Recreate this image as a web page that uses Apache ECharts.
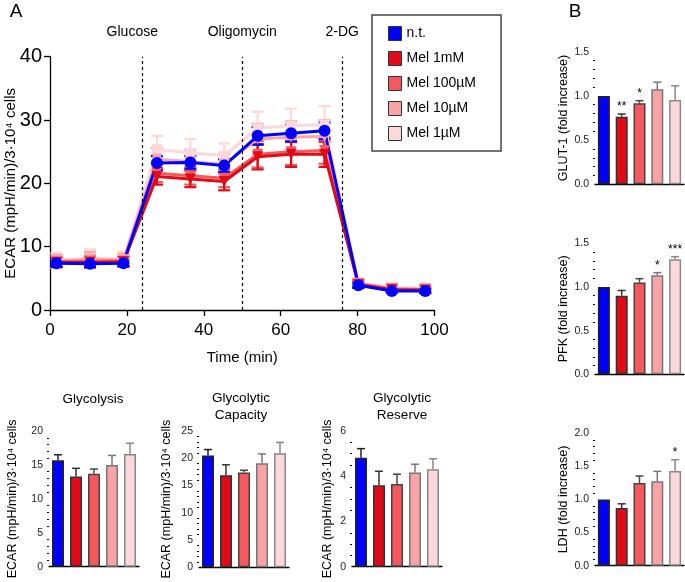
<!DOCTYPE html>
<html>
<head>
<meta charset="utf-8">
<script src="https://cdn.jsdelivr.net/npm/echarts@6/dist/echarts.min.js"></script>
<style>
html,body{margin:0;padding:0;background:#fff}
#main{width:685px;height:582px}
</style>
</head>
<body>
<div id="main"></div>
<script>
// panel A - ECAR time course
var times = [1.7, 10.4, 19.1, 27.8, 36.5, 45.3, 54.0, 62.7, 71.4, 80.2, 88.9, 97.6];
var ntMean = [7.4, 7.3, 7.4, 23.2, 23.3, 22.8, 27.5, 27.9, 28.3, 3.9, 3.0, 3.0];
var ntErr = [0.6, 0.5, 0.5, 1.1, 1.0, 1.0, 1.4, 1.3, 1.3, 0.4, 0.3, 0.3];
var mel1mMMean = [7.5, 7.5, 7.6, 21.1, 20.7, 20.3, 24.2, 24.6, 24.6, 4.0, 3.2, 3.1];
var mel1mMErr = [0.7, 0.8, 0.7, 1.3, 1.3, 1.4, 2.0, 2.0, 2.0, 0.5, 0.4, 0.4];
var mel100Mean = [7.6, 7.7, 7.7, 21.6, 21.2, 20.8, 24.6, 25.0, 25.2, 4.1, 3.3, 3.2];
var mel100Err = [0.8, 0.9, 0.8, 1.4, 1.4, 1.4, 2.1, 2.1, 2.1, 0.6, 0.5, 0.5];
var mel10Mean = [7.7, 8.0, 7.9, 23.8, 23.4, 23.0, 27.0, 27.3, 27.4, 4.2, 3.4, 3.3];
var mel10Err = [1.0, 1.2, 1.0, 1.8, 1.9, 1.7, 2.4, 2.5, 2.6, 0.7, 0.7, 0.7];
var mel1Mean = [7.8, 8.2, 8.0, 25.4, 24.8, 24.4, 28.7, 29.1, 29.3, 4.3, 3.5, 3.4];
var mel1Err = [1.2, 1.4, 1.2, 2.1, 2.2, 1.9, 2.6, 2.7, 2.9, 0.8, 0.8, 0.8];
var drugTimes = [24, 50, 76];
var drugNames = ['Glucose', 'Oligomycin', '2-DG'];

// bar panels
var groups = ['n.t.', 'Mel 1mM', 'Mel 100µM', 'Mel 10µM', 'Mel 1µM'];
var glycolysis = [15.7, 13.3, 13.7, 15.0, 16.6];
var glycolysisErr = [0.8, 1.2, 0.7, 1.4, 1.6];
var capacity = [20.5, 16.9, 17.4, 19.1, 20.9];
var capacityErr = [1.1, 1.9, 0.4, 1.7, 2.0];
var reserve = [4.82, 3.6, 3.66, 4.16, 4.31];
var reserveErr = [0.4, 0.62, 0.43, 0.37, 0.46];
var glut1 = [1.0, 0.765, 0.916, 1.075, 0.954];
var glut1Err = [0, 0.03, 0.03, 0.08, 0.16];
var glut1Stars = ['', '**', '*', '', ''];
var pfk = [1.0, 0.90, 1.05, 1.134, 1.317];
var pfkErr = [0, 0.06, 0.045, 0.03, 0.03];
var pfkStars = ['', '', '', '*', '***'];
var ldh = [1.0, 0.87, 1.25, 1.275, 1.43];
var ldhErr = [0, 0.065, 0.105, 0.15, 0.17];
var ldhStars = ['', '', '', '', '*'];

var colors = ['#0000ff', '#e10b17', '#f5585d', '#f9a3a6', '#fdd8d9'];
var edges = ['#222', '#333', '#444', '#777', '#888'];
var FONT = 'Liberation Sans, Arial, sans-serif';

var chart = echarts.init(document.getElementById('main'));

function errRender(capHalf, lw, both, edgeList, stars) {
  return function (params, api) {
    var x = api.value(0), v = api.value(1), e = api.value(2);
    var col = edgeList ? edgeList[params.dataIndex] : api.visual('color');
    var top = api.coord([x, v + e]);
    var bot = api.coord([x, both ? v - e : v]);
    var kids = [];
    if (e > 0) {
      kids.push({type: 'line', shape: {x1: top[0], y1: top[1], x2: bot[0], y2: bot[1]}, style: {stroke: col, lineWidth: lw}});
      kids.push({type: 'line', shape: {x1: top[0] - capHalf, y1: top[1], x2: top[0] + capHalf, y2: top[1]}, style: {stroke: col, lineWidth: lw}});
      if (both) {
        kids.push({type: 'line', shape: {x1: bot[0] - capHalf, y1: bot[1], x2: bot[0] + capHalf, y2: bot[1]}, style: {stroke: col, lineWidth: lw}});
      }
    }
    if (stars && stars[params.dataIndex]) {
      kids.push({type: 'text', x: top[0], y: top[1] - 1, style: {text: stars[params.dataIndex], align: 'center', verticalAlign: 'bottom', font: '12px ' + FONT, fill: '#000'}});
    }
    return {type: 'group', children: kids};
  };
}

var axisBase = {
  axisLine: {lineStyle: {color: '#000', width: 1.3}},
  axisTick: {length: 4, lineStyle: {color: '#000', width: 1.2}},
  splitLine: {show: false},
  nameMoveOverlap: false
};

function catAxis(idx) {
  return Object.assign({}, axisBase, {
    type: 'category', gridIndex: idx, data: groups,
    axisTick: {alignWithLabel: true, length: 4, lineStyle: {color: '#000', width: 1.2}},
    axisLabel: {show: false}
  });
}

function valAxis(idx, max, interval, minorN, name, gap, dec) {
  return Object.assign({}, axisBase, {
    type: 'value', gridIndex: idx, min: 0, max: max, interval: interval,
    minorTick: {show: true, splitNumber: minorN, length: 2, lineStyle: {color: '#000'}},
    axisLabel: {fontSize: 10.5, color: '#222', margin: 6, fontFamily: FONT,
      formatter: function (v) { return dec ? v.toFixed(1) : String(v); }},
    name: name, nameLocation: 'middle', nameGap: gap,
    nameTextStyle: {fontSize: 12.5, color: '#000', fontFamily: FONT}
  });
}

var grids = [
  {left: 50, top: 56.7, width: 384.5, height: 253.3},
  {left: 49, top: 431, width: 90, height: 135.7},
  {left: 199, top: 431, width: 90, height: 136.3},
  {left: 352, top: 431, width: 90, height: 135.7},
  {left: 595, top: 51.7, width: 89, height: 132.6},
  {left: 595, top: 243.3, width: 89, height: 131},
  {left: 595, top: 433.3, width: 89, height: 132.4}
];
grids.forEach(function (g) { g.outerBoundsMode = 'none'; g.containLabel = false; });

var ecarName = 'ECAR (mpH/min)/3·10⁴ cells';

var xAxes = [
  Object.assign({}, axisBase, {
    type: 'value', gridIndex: 0, min: 0, max: 100, interval: 20,
    axisTick: {length: 6, lineStyle: {color: '#000', width: 1.3}},
    axisLabel: {fontSize: 17, color: '#000', margin: 12, fontFamily: FONT},
    name: 'Time (min)', nameLocation: 'middle', nameGap: 40,
    nameTextStyle: {fontSize: 15, color: '#000', fontFamily: FONT}
  }),
  catAxis(1), catAxis(2), catAxis(3), catAxis(4), catAxis(5), catAxis(6)
];

var yAxes = [
  Object.assign({}, axisBase, {
    type: 'value', gridIndex: 0, min: 0, max: 40, interval: 10,
    axisTick: {length: 6, lineStyle: {color: '#000', width: 1.3}},
    axisLabel: {fontSize: 20, color: '#000', margin: 8, fontFamily: FONT},
    name: ecarName, nameLocation: 'middle', nameGap: 32,
    nameTextStyle: {fontSize: 15, color: '#000', fontFamily: FONT}
  }),
  valAxis(1, 20, 5, 5, ecarName, 29.5, false),
  valAxis(2, 25, 5, 5, ecarName, 25.5, false),
  valAxis(3, 6, 2, 4, ecarName, 17.5, false),
  valAxis(4, 1.5, 0.5, 5, 'GLUT-1 (fold increase)', 24.5, true),
  valAxis(5, 1.5, 0.5, 5, 'PFK (fold increase)', 24.5, true),
  valAxis(6, 2, 0.5, 5, 'LDH (fold increase)', 24.5, true)
];

var series = [];

// time course lines, lightest first so n.t. sits on top
var lineSets = [
  {name: 'Mel 1µM', mean: mel1Mean, err: mel1Err, color: colors[4], symbol: 'rect', rot: 0, size: 10},
  {name: 'Mel 10µM', mean: mel10Mean, err: mel10Err, color: colors[3], symbol: 'triangle', rot: 180, size: 11},
  {name: 'Mel 100µM', mean: mel100Mean, err: mel100Err, color: colors[2], symbol: 'triangle', rot: 180, size: 11},
  {name: 'Mel 1mM', mean: mel1mMMean, err: mel1mMErr, color: colors[1], symbol: 'triangle', rot: 180, size: 11},
  {name: 'n.t.', mean: ntMean, err: ntErr, color: colors[0], symbol: 'circle', rot: 0, size: 12}
];

lineSets.forEach(function (s) {
  series.push({
    name: s.name + ' err', type: 'custom', xAxisIndex: 0, yAxisIndex: 0,
    color: s.color, renderItem: errRender(6, 2.2, true),
    encode: {x: 0, y: [1, 2]},
    data: times.map(function (t, i) { return [t, s.mean[i], s.err[i]]; }),
    silent: true
  });
  series.push({
    name: s.name, type: 'line', xAxisIndex: 0, yAxisIndex: 0,
    color: s.color, symbol: s.symbol, symbolRotate: s.rot, symbolSize: s.size,
    showSymbol: true,
    lineStyle: {width: 3, color: s.color},
    itemStyle: {color: s.color},
    data: times.map(function (t, i) { return [t, s.mean[i]]; })
  });
});

// drug injections
series[series.length - 1].markLine = {
  silent: true, symbol: 'none',
  lineStyle: {type: [3, 3], color: '#000', width: 1.2},
  label: {show: true, position: 'end', formatter: '{b}', fontSize: 14, color: '#000', fontFamily: FONT, distance: 18},
  data: drugTimes.map(function (t, i) {
    var d = {xAxis: t, name: drugNames[i]};
    if (i === 0) d.label = {padding: [0, 20, 0, 0]};
    return d;
  })
};

function barPanel(idx, vals, errs, stars) {
  series.push({
    type: 'bar', xAxisIndex: idx, yAxisIndex: idx, barWidth: 12,
    data: vals.map(function (v, i) {
      return {value: v, itemStyle: {color: colors[i], borderColor: edges[i], borderWidth: 1.5}};
    })
  });
  series.push({
    type: 'custom', xAxisIndex: idx, yAxisIndex: idx,
    renderItem: errRender(4, 1.5, false, edges, stars),
    encode: {x: 0, y: [1, 2]},
    data: vals.map(function (v, i) { return [i, v, errs[i]]; }),
    silent: true
  });
}

barPanel(1, glycolysis, glycolysisErr, null);
barPanel(2, capacity, capacityErr, null);
barPanel(3, reserve, reserveErr, null);
barPanel(4, glut1, glut1Err, glut1Stars);
barPanel(5, pfk, pfkErr, pfkStars);
barPanel(6, ldh, ldhErr, ldhStars);

function label(txt, x, y, size) {
  return {type: 'text', x: x, y: y, style: {text: txt, font: size + 'px ' + FONT, fill: '#000', align: 'center', verticalAlign: 'middle'}};
}

chart.setOption({
  animation: false,
  backgroundColor: '#fff',
  grid: grids,
  xAxis: xAxes,
  yAxis: yAxes,
  legend: {
    data: ['n.t.', 'Mel 1mM', 'Mel 100µM', 'Mel 10µM', 'Mel 1µM'],
    orient: 'vertical', left: 372, top: 15,
    icon: 'rect', itemWidth: 13, itemHeight: 14, itemGap: 10,
    padding: [11, 25, 10, 16],
    borderColor: '#444', borderWidth: 1.5,
    itemStyle: {borderColor: '#333', borderWidth: 1},
    textStyle: {fontSize: 14, color: '#000', fontFamily: FONT}
  },
  graphic: [
    label('A', 16, 12, 19),
    label('B', 575, 12, 19),
    label('Glycolysis', 93, 399, 13.5),
    label('Glycolytic', 241, 398, 13.5),
    label('Capacity', 241, 415, 13.5),
    label('Glycolytic', 402, 398, 13.5),
    label('Reserve', 402, 415, 13.5)
  ],
  series: series
});
</script>
</body>
</html>
